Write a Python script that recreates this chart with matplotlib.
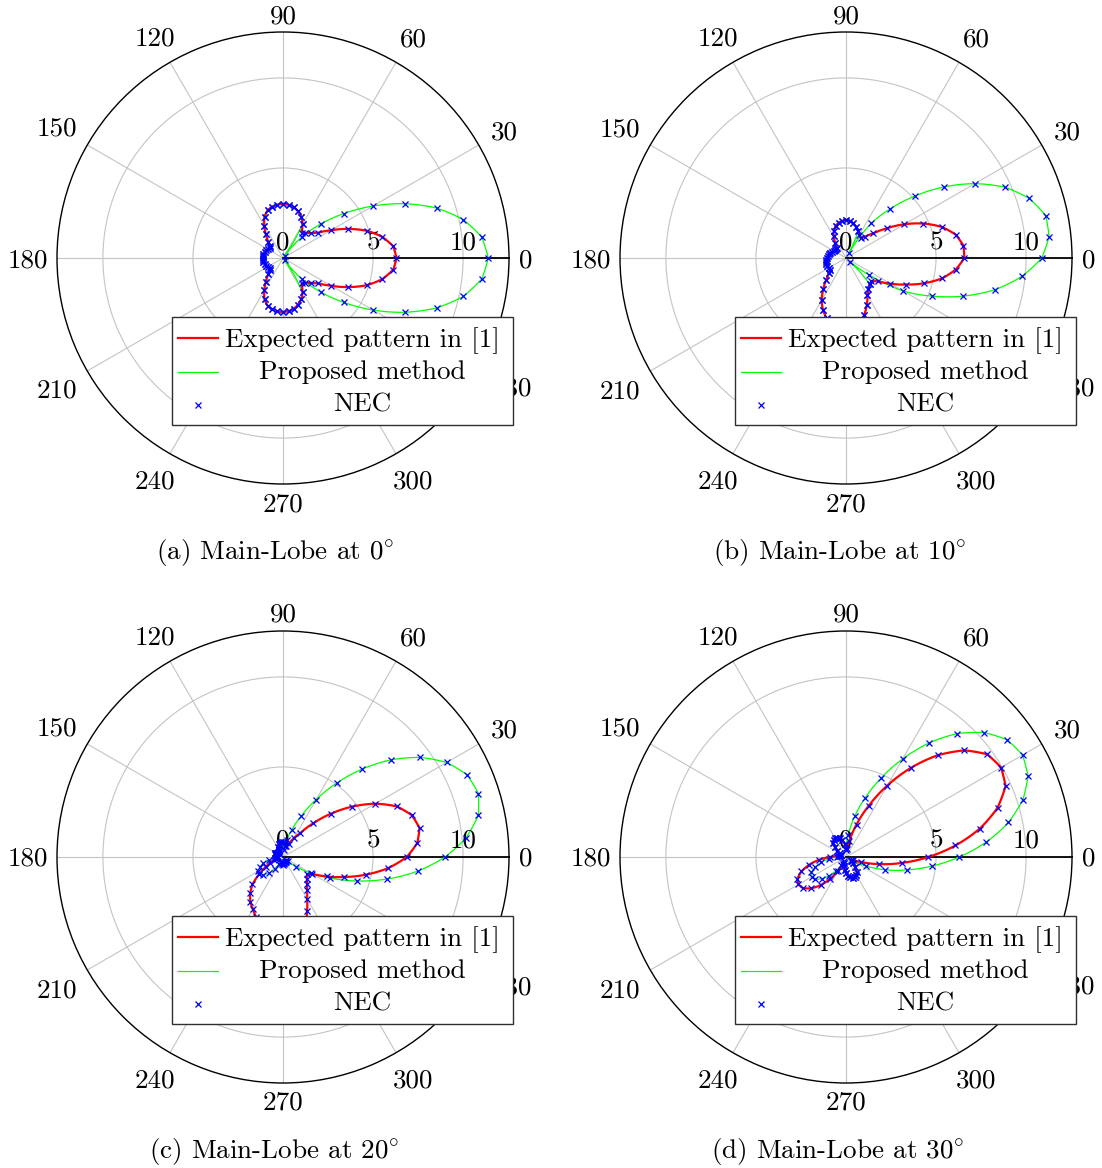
import numpy as np
import matplotlib
matplotlib.use("Agg")
import matplotlib.pyplot as plt
from matplotlib.lines import Line2D
from matplotlib.patches import Rectangle
from matplotlib.transforms import ScaledTranslation

plt.rcParams['font.family'] = ['cmr10', 'DejaVu Serif']
plt.rcParams['mathtext.fontset'] = 'cm'
plt.rcParams['axes.formatter.use_mathtext'] = True
plt.rcParams['axes.unicode_minus'] = False

# sampling angles of the patterns (degrees), one value every 6 degrees
theta_deg = np.arange(0, 360, 6)

# (a) main lobe at 0 deg
exp_a = [6.30, 6.16, 5.64, 4.89, 3.97, 3.07, 2.38, 2.06, 1.86, 1.75,
         2.17, 2.50, 2.72, 2.88, 2.97, 3.00, 2.98, 2.92, 2.78, 2.52,
         2.08, 1.62, 1.22, 0.97, 0.92, 0.98, 1.03, 1.08, 1.11, 1.13,
         1.13, 1.13, 1.11, 1.08, 1.03, 0.98, 0.92, 0.97, 1.22, 1.62,
         2.08, 2.52, 2.78, 2.92, 2.98, 3.00, 2.97, 2.88, 2.72, 2.50,
         2.17, 1.75, 1.86, 2.06, 2.38, 3.07, 3.97, 4.89, 5.64, 6.16]
prop_a = [11.40, 11.10, 10.24, 8.97, 7.41, 5.77, 4.20, 2.82, 1.60, 0.15,
          2.17, 2.50, 2.72, 2.88, 2.97, 3.00, 2.98, 2.92, 2.78, 2.52,
          2.08, 1.62, 1.22, 0.97, 0.92, 0.98, 1.03, 1.08, 1.11, 1.13,
          1.13, 1.13, 1.11, 1.08, 1.03, 0.98, 0.92, 0.97, 1.22, 1.62,
          2.08, 2.52, 2.78, 2.92, 2.98, 3.00, 2.97, 2.88, 2.72, 2.50,
          2.17, 0.15, 1.60, 2.82, 4.20, 5.77, 7.41, 8.97, 10.24, 11.10]

# (b) main lobe at 10 deg
exp_b = [6.57, 6.56, 6.23, 5.59, 4.71, 3.75, 2.80, 2.05, 1.60, 1.38,
         1.48, 1.64, 1.82, 1.97, 2.07, 2.11, 2.08, 2.00, 1.87, 1.66,
         1.38, 1.00, 0.78, 0.72, 0.75, 0.80, 0.86, 0.92, 0.98, 1.03,
         1.07, 1.11, 1.14, 1.15, 1.14, 1.12, 1.10, 1.25, 1.65, 2.15,
         2.70, 3.15, 3.50, 3.80, 3.95, 4.00, 3.95, 3.72, 3.30, 2.85,
         2.38, 2.12, 1.96, 1.90, 2.20, 2.85, 3.62, 4.55, 5.45, 6.13]
prop_b = [10.87, 11.34, 11.34, 10.70, 9.67, 8.26, 6.71, 5.13, 3.67, 2.40,
          0.30, 1.64, 1.82, 1.97, 2.07, 2.11, 2.08, 2.00, 1.87, 1.66,
          1.38, 1.00, 0.78, 0.72, 0.75, 0.80, 0.86, 0.92, 0.98, 1.03,
          1.07, 1.11, 1.14, 1.15, 1.14, 1.12, 1.10, 1.25, 1.65, 2.15,
          2.70, 3.15, 3.50, 3.80, 3.95, 4.00, 3.95, 3.72, 3.30, 2.85,
          2.38, 2.12, 1.96, 0.30, 1.60, 3.67, 5.20, 6.85, 8.46, 9.82]

# (c) main lobe at 20 deg
exp_c = [6.87, 7.50, 7.75, 7.52, 6.91, 5.92, 4.76, 3.60, 2.52, 1.65,
         1.20, 0.80, 0.62, 0.62, 0.72, 0.82, 0.86, 0.84, 0.76, 0.62,
         0.48, 0.38, 0.32, 0.34, 0.42, 0.48, 0.50, 0.46, 0.38, 0.32,
         0.30, 0.34, 0.42, 0.55, 0.78, 1.10, 1.65, 2.28, 2.72, 3.08,
         3.35, 3.65, 4.10, 4.55, 4.85, 4.90, 4.75, 4.45, 4.00, 3.28,
         2.67, 2.27, 1.99, 1.79, 1.65, 1.85, 2.65, 3.58, 4.71, 5.88]
prop_c = [9.00, 10.22, 11.09, 11.41, 11.20, 10.50, 9.41, 8.06, 6.57, 5.07,
          3.68, 2.49, 1.58, 0.95, 0.40, 0.82, 0.86, 0.84, 0.76, 0.62,
          0.48, 0.38, 0.32, 0.34, 0.42, 0.48, 0.50, 0.46, 0.38, 0.32,
          0.30, 0.45, 0.80, 1.15, 1.42, 1.58, 1.62, 1.50, 1.20, 0.80,
          0.45, 0.30, 0.30, 0.35, 0.40, 0.42, 0.40, 0.35, 0.30, 0.30,
          0.30, 0.28, 0.25, 0.35, 0.90, 1.80, 2.84, 4.30, 5.89, 7.52]

# (d) main lobe at 30 deg
exp_d = [4.57, 6.11, 7.60, 8.85, 9.70, 9.94, 9.70, 8.85, 7.60, 6.11,
         4.57, 3.12, 1.89, 0.90, 0.42, 0.50, 0.75, 0.95, 1.10, 1.18,
         1.20, 1.18, 1.05, 0.85, 0.60, 0.40, 0.30, 0.30, 0.35, 0.45,
         0.90, 1.50, 2.10, 2.60, 2.95, 3.05, 2.95, 2.60, 2.10, 1.50,
         0.90, 0.45, 0.35, 0.50, 0.70, 0.90, 1.05, 1.15, 1.20, 1.20,
         1.15, 1.00, 0.75, 0.50, 0.35, 0.35, 0.42, 0.90, 1.89, 3.12]
prop_d = [6.28, 7.82, 9.22, 10.33, 11.07, 11.32, 11.07, 10.33, 9.22, 7.82,
          6.28, 4.80, 3.44, 2.30, 1.23, 0.40, 0.75, 0.95, 1.10, 1.18,
          1.20, 1.18, 1.05, 0.85, 0.60, 0.40, 0.30, 0.30, 0.35, 0.40,
          0.50, 0.95, 1.40, 1.80, 2.10, 2.20, 2.10, 1.80, 1.40, 0.95,
          0.50, 0.25, 0.35, 0.50, 0.70, 0.90, 1.05, 1.15, 1.20, 1.20,
          1.15, 1.00, 0.75, 0.50, 0.35, 0.40, 1.23, 2.30, 3.44, 4.80]

captions = ["(a) Main-Lobe at 0$^{\\circ}$", "(b) Main-Lobe at 10$^{\\circ}$",
            "(c) Main-Lobe at 20$^{\\circ}$", "(d) Main-Lobe at 30$^{\\circ}$"]
legend_labels = ["Expected pattern in [1]", "Proposed method", "NEC"]
angle_ticks = list(range(0, 360, 30))
radius_ticks = [0, 5, 10]

RED, GREEN, BLUE = "#ff0000", "#00ff00", "#0000ff"
W, H = 1102, 1168
R_PX = 226
RMAX = 12.55
FS = 19.5

# centre of each angle label relative to its point on the outer circle (px, y up)
label_shift = {0: (17, 0), 30: (26, 15), 60: (17, 25), 90: (0, 18),
               120: (-15, 26), 150: (-30, 18), 180: (-29, 0), 210: (-30, -18),
               240: (-15, -26), 270: (0, -18), 300: (17, -26), 330: (33, -15)}
DIGIT_H = 18.0


def fx(x):
    return x / W


def fy(y):
    return 1 - y / H


def smooth_polar(line):
    # let the polar transform draw each segment as a curve in (theta, r)
    line.get_path()._interpolation_steps = 6


def panel(cx, cy, exp, prop, caption, capx, capy):
    ax = fig.add_axes([fx(cx - R_PX), fy(cy + R_PX), 2 * R_PX / W, 2 * R_PX / H],
                      projection='polar')
    # close each pattern at 360 deg so the last segment stays short
    th = np.deg2rad(np.append(theta_deg, 360))
    e = np.append(exp, exp[0])
    p = np.append(prop, prop[0])
    lp, = ax.plot(th, p, color=GREEN, lw=0.9, zorder=3)
    le, = ax.plot(th, e, color=RED, lw=1.6, zorder=4)
    smooth_polar(lp)
    smooth_polar(le)
    # NEC samples
    for vals in (exp, prop):
        ax.plot(np.deg2rad(theta_deg), vals, ls='none', marker='x', ms=4.5,
                mew=0.9, color=BLUE, zorder=5)
    ax.set_ylim(0, RMAX)
    ax.set_xticks(np.deg2rad(angle_ticks))
    ax.set_xticklabels([])
    ax.set_yticks([5, 10])
    ax.set_yticklabels([])
    ax.tick_params(length=0)
    ax.grid(True, color="#c4c4c4", lw=0.8)
    ax.spines['polar'].set_linewidth(1.0)
    ax.plot([0, 0], [0, RMAX], color='k', lw=1.3, zorder=2.5, clip_on=False)

    for r in radius_ticks:
        ax.text(0, r, str(r), ha='center', va='baseline', fontsize=FS,
                transform=ax.transData + ScaledTranslation(0, 9 / 100, fig.dpi_scale_trans))

    for a in angle_ticks:
        dx, dy = label_shift[a]
        off = ScaledTranslation(dx / 100, (dy - DIGIT_H / 2) / 100, fig.dpi_scale_trans)
        ax.text(np.deg2rad(a), RMAX, str(a), ha='center', va='baseline', fontsize=FS,
                transform=ax.transData + off, clip_on=False)

    # legend box (drawn on top of the polar axes)
    fig.add_artist(Rectangle((fx(cx - 111.5), fy(cy + 167)), 341.8 / W, 108 / H,
                             transform=fig.transFigure, facecolor='white',
                             edgecolor='#303030', lw=1.0, zorder=10))
    fig.add_artist(Line2D([fx(cx - 104.7), fx(cx - 64.7)], [fy(cy + 80.3)] * 2,
                          color=RED, lw=1.6, transform=fig.transFigure, zorder=11))
    fig.add_artist(Line2D([fx(cx - 104.7), fx(cx - 64.7)], [fy(cy + 113.7)] * 2,
                          color=GREEN, lw=0.9, transform=fig.transFigure, zorder=11))
    fig.add_artist(Line2D([fx(cx - 84.7)], [fy(cy + 147)], ls='none', marker='x',
                          ms=4.5, mew=0.9, color=BLUE, transform=fig.transFigure,
                          zorder=11))
    for lab, dy in zip(legend_labels, (88.7, 121.3, 153.7)):
        fig.text(fx(cx + 79.5), fy(cy + dy), lab, ha='center', va='baseline',
                 fontsize=FS, zorder=12)

    fig.text(fx(capx), fy(capy), caption, ha='center', va='baseline', fontsize=FS)


fig = plt.figure(figsize=(11.02, 11.68), dpi=100)
panel(283, 258, exp_a, prop_a, captions[0], 275, 559)
panel(846, 258, exp_b, prop_b, captions[1], 840, 559)
panel(283, 857, exp_c, prop_c, captions[2], 274, 1158)
panel(846, 857, exp_d, prop_d, captions[3], 838, 1158)
fig.savefig("out.png", dpi=100)
